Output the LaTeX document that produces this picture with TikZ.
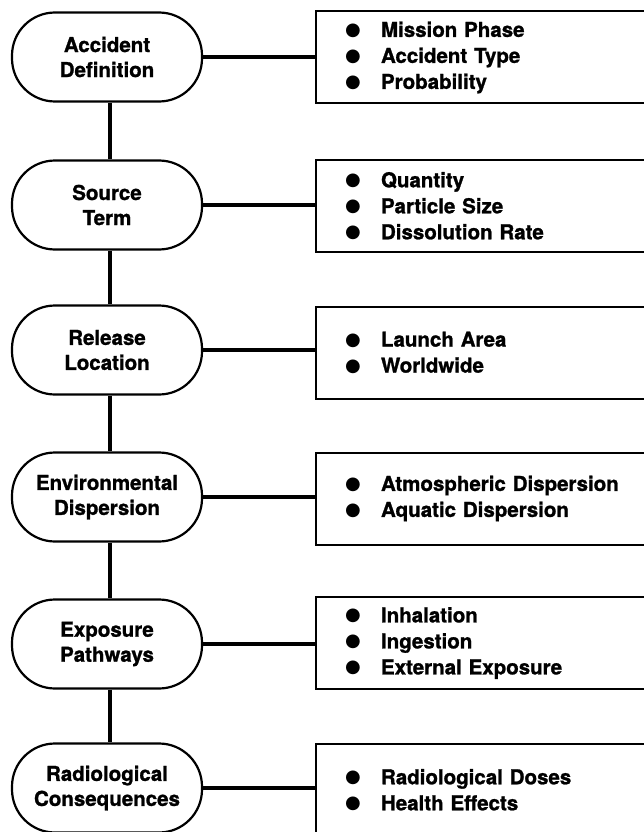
\documentclass[tikz,border=0pt]{standalone}
\usepackage{fontspec}
\setmainfont{TeX Gyre Heros}[BoldFeatures={FakeBold=1.2}]
\newfontfamily\symfont{DejaVu Sans}
\newcommand\itembul{\makebox[12pt]{\raisebox{1.5pt}{\symfont\fontsize{18}{18}\selectfont ●}}\hspace{22pt}}
\begin{document}
\begin{tikzpicture}[x=1pt,y=-1pt,
  stage/.style={draw, line width=2.2pt, rounded corners=43pt, minimum width=190pt,
    minimum height=89pt, align=center, inner sep=0pt,
    font=\bfseries\fontsize{20.5}{25}\selectfont},
  info/.style={draw, line width=2pt, anchor=west, minimum height=92pt,
    text width=330pt, inner xsep=31pt, inner ysep=0pt, align=left,
    font=\bfseries\fontsize{20.5}{26}\selectfont},
  conn/.style={line width=3.5pt}]
\useasboundingbox (0,0) rectangle (644,832);
\clip (0,0) rectangle (644,832);

\node[stage] (s1) at (107,57) {Accident\\Definition};
\node[stage] (s2) at (107,205) {Source\\Term};
\node[stage] (s3) at (107,350) {Release\\Location};
\node[stage] (s4) at (107,497) {Environmental\\Dispersion};
\node[stage] (s5) at (107,644) {Exposure\\Pathways};
\node[stage] (s6) at (107,788) {Radiological\\Consequences};

\node[info] (b1) at (315,57.5) {\itembul Mission Phase\\\itembul Accident Type\\\itembul Probability};
\node[info] (b2) at (315,206) {\itembul Quantity\\\itembul Particle Size\\\itembul Dissolution Rate};
\node[info] (b3) at (315,352.5) {\itembul Launch Area\\\itembul Worldwide};
\node[info] (b4) at (315,498.5) {\itembul Atmospheric Dispersion\\\itembul Aquatic Dispersion};
\node[info] (b5) at (315,643) {\itembul Inhalation\\\itembul Ingestion\\\itembul External Exposure};
\node[info] (b6) at (315,790) {\itembul Radiological Doses\\\itembul Health Effects};

\foreach \i in {1,...,6}{
  \draw[conn] (s\i.east) -- (s\i.east -| b\i.west);
}
\foreach \i/\j in {1/2,2/3,3/4,4/5,5/6}{
  \draw[conn] ([xshift=3pt]s\i.south) -- ([xshift=3pt]s\j.north);
}
\end{tikzpicture}
\end{document}
